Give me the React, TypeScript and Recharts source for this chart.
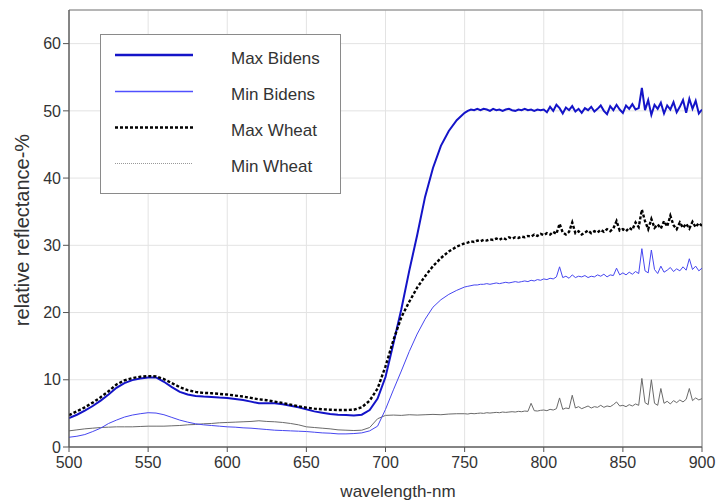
import { LineChart, Line, XAxis, YAxis, CartesianGrid, ReferenceArea, Legend } from "recharts";

const FONT = '"Liberation Sans", Arial, Helvetica, sans-serif';

// wavelength (nm): 5 nm steps on the smooth part, 2 nm steps on the noisy plateau
const wavelengths = [
  500, 505, 510, 515, 520, 525, 530, 535, 540, 545,
  550, 555, 560, 565, 570, 575, 580, 585, 590, 595,
  600, 605, 610, 615, 620, 625, 630, 635, 640, 645,
  650, 655, 660, 665, 670, 675, 680, 685, 690, 695,
  700, 705, 710, 715, 720, 725, 730, 735, 740, 745,
  750,
  752, 754, 756, 758, 760, 762, 764, 766, 768, 770,
  772, 774, 776, 778, 780, 782, 784, 786, 788, 790,
  792, 794, 796, 798, 800, 802, 804, 806, 808, 810,
  812, 814, 816, 818, 820, 822, 824, 826, 828, 830,
  832, 834, 836, 838, 840, 842, 844, 846, 848, 850,
  852, 854, 856, 858, 860, 862, 864, 866, 868, 870,
  872, 874, 876, 878, 880, 882, 884, 886, 888, 890,
  892, 894, 896, 898, 900,
];

const maxBidens = [
  4.3, 4.8, 5.4, 6.1, 6.9, 7.8, 8.8, 9.5, 9.95, 10.2,
  10.35, 10.35, 9.7, 8.9, 8.2, 7.8, 7.6, 7.5, 7.45, 7.35,
  7.3, 7.15, 7.0, 6.75, 6.5, 6.5, 6.5, 6.35, 6.15, 5.9,
  5.6, 5.3, 5.1, 4.9, 4.8, 4.75, 4.7, 4.8, 5.5, 7.2,
  10.4, 15.4, 20.5, 26.2, 31.5, 37.2, 41.5, 44.8, 47.0, 48.6,
  49.7,
  50.0, 50.2, 50.1, 50.3, 50.1, 50.3, 50.2, 50.0, 50.3, 50.1,
  50.2, 50.0, 50.2, 50.3, 50.1, 50.0, 50.2, 50.1, 50.3, 50.1,
  50.2, 50.0, 50.2, 50.1, 50.2, 49.8, 50.6, 50.0, 50.9, 50.4,
  49.6, 50.5, 50.1, 50.7, 49.9, 50.3, 49.7, 50.4, 50.1, 50.6,
  49.9, 50.3, 50.8, 50.0, 49.5, 50.7, 50.1, 50.9, 50.2, 49.7,
  50.8, 50.3, 51.0, 50.2, 50.4, 53.4, 50.1, 51.6, 49.4, 50.9,
  50.3, 51.2, 49.6, 50.8, 50.2, 51.3, 49.8, 50.6, 51.6, 49.7,
  51.8, 50.3, 51.5, 49.6, 50.2,
];

const minBidens = [
  1.45, 1.6, 1.85, 2.3, 2.8, 3.5, 4.0, 4.45, 4.75, 4.95,
  5.1, 5.05, 4.8, 4.4, 4.0, 3.7, 3.45, 3.3, 3.2, 3.1,
  3.0, 2.95, 2.85, 2.8, 2.7, 2.6, 2.5, 2.45, 2.4, 2.35,
  2.3, 2.2, 2.1, 2.05, 1.95, 1.95, 2.0, 2.1, 2.4, 3.1,
  5.6, 8.5, 11.3, 14.2, 16.8, 19.0, 20.8, 21.9, 22.7, 23.3,
  23.8,
  23.9, 24.0, 24.1, 24.1, 24.2, 24.2, 24.3, 24.2, 24.3, 24.4,
  24.3, 24.4, 24.5, 24.4, 24.5, 24.6, 24.5, 24.6, 24.7, 24.6,
  24.8, 24.7, 24.9, 24.8, 25.0, 24.9, 25.1, 25.0, 25.3, 26.8,
  25.2, 25.4, 25.1, 25.6, 25.2, 25.4, 25.3, 25.5, 25.2, 25.4,
  25.3, 25.6, 25.4, 25.7, 25.3, 25.6, 25.5, 26.6, 25.6, 25.9,
  25.6, 26.0, 25.7, 26.1, 25.8, 29.5, 26.2, 25.9, 29.3, 26.4,
  25.8, 26.9, 26.0, 26.3, 26.7, 26.1, 26.5, 26.2, 26.8, 26.3,
  28.0, 26.4, 26.9, 26.2, 26.6,
];

const maxWheat = [
  4.75, 5.3, 5.9, 6.6, 7.4, 8.3, 9.3, 9.9, 10.25, 10.45,
  10.55, 10.5, 10.1, 9.5, 8.9, 8.45, 8.2, 8.05, 8.0, 7.9,
  7.8, 7.65, 7.5, 7.3, 7.1, 6.95, 6.75, 6.55, 6.3, 6.05,
  5.85, 5.7, 5.6, 5.55, 5.5, 5.5, 5.55, 5.9, 6.9, 8.7,
  12.0, 15.9, 19.3, 21.6, 23.7, 25.4, 26.9, 28.1, 29.1, 29.8,
  30.3,
  30.4, 30.6, 30.5, 30.7, 30.6, 30.8, 30.7, 30.9, 30.8, 31.0,
  30.8, 31.1, 30.9, 31.2, 31.0, 31.2, 31.1, 31.3, 31.2, 31.4,
  31.3, 31.6, 31.4, 31.7, 31.5, 31.8, 31.6, 32.0, 31.7, 33.2,
  31.9, 31.6, 32.0, 33.4, 31.8, 32.1, 31.6, 31.9, 32.2, 31.8,
  32.1, 31.9, 32.3, 32.0, 32.4, 32.1, 32.5, 33.6, 32.2, 32.4,
  32.1, 32.6, 32.3, 33.4, 32.7, 35.3, 33.6, 32.4, 33.9, 32.6,
  33.1, 32.5, 33.6, 32.8, 34.4, 33.0, 32.4, 33.4, 32.6, 33.2,
  32.5, 33.5, 32.7, 33.3, 32.9,
];

const minWheat = [
  2.4, 2.55, 2.7, 2.8, 2.9, 2.95, 3.0, 3.0, 3.0, 3.05,
  3.1, 3.1, 3.1, 3.15, 3.2, 3.3, 3.35, 3.45, 3.5, 3.6,
  3.65, 3.7, 3.75, 3.8, 3.9, 3.8, 3.75, 3.65, 3.5, 3.3,
  3.0, 2.9, 2.8, 2.7, 2.55, 2.5, 2.45, 2.5, 2.9, 4.2,
  4.7, 4.75, 4.7, 4.8, 4.75, 4.8, 4.85, 4.8, 4.9, 4.95,
  4.95,
  4.9, 5.0, 4.95, 5.0, 5.05, 5.0, 5.1, 5.05, 5.1, 5.15,
  5.1, 5.2, 5.15, 5.2, 5.25, 5.2, 5.3, 5.25, 5.35, 5.3,
  6.5, 5.4, 5.35, 5.45, 5.5, 5.4, 5.6, 5.5, 5.7, 7.3,
  5.6, 5.8, 5.7, 7.7, 5.8, 6.0, 5.7, 5.9, 6.1, 5.8,
  6.0, 5.9, 6.2, 5.9, 6.1, 6.0, 6.3, 6.7, 6.1, 6.2,
  6.0, 6.3, 6.1, 6.4, 6.2, 10.2, 6.6, 6.3, 10.0, 6.5,
  6.2, 8.7, 6.5, 6.8, 6.4, 6.9, 6.6, 7.0, 6.7, 7.1,
  8.7, 6.9, 7.3, 7.0, 7.2,
];

const xTicks = [500, 550, 600, 650, 700, 750, 800, 850, 900];
const yTicks = [0, 10, 20, 30, 40, 50, 60];

const series = [
  { key: "maxBidens", name: "Max Bidens", color: "#1414c8", width: 2.2, dash: undefined },
  { key: "minBidens", name: "Min Bidens", color: "#4646f0", width: 1, dash: undefined },
  { key: "maxWheat", name: "Max Wheat", color: "#000000", width: 2.4, dash: "3 2" },
  { key: "minWheat", name: "Min Wheat", color: "#6a6a6a", width: 1, dash: undefined },
];

const data = wavelengths.map((wl, i) => ({
  wl,
  maxBidens: maxBidens[i],
  minBidens: minBidens[i],
  maxWheat: maxWheat[i],
  minWheat: minWheat[i],
}));

const tickStyle = { fill: "#333", fontSize: 16, fontFamily: FONT };

function XTitle() {
  return (
    <text x={398} y={497} textAnchor="middle" fontSize={17} fontFamily={FONT} fill="#333">
      wavelength-nm
    </text>
  );
}

function YTitle() {
  return (
    <text
      x={29}
      y={230}
      textAnchor="middle"
      fontSize={20}
      fontFamily={FONT}
      fill="#333"
      transform="rotate(-90 29 230)"
    >
      relative reflectance-%
    </text>
  );
}

function LegendBox() {
  const rows = [21, 57.5, 93.5, 129.5];
  const legendStyles = [
    { color: "#1414c8", width: 2.5, dash: undefined },
    { color: "#5050ff", width: 1.3, dash: undefined },
    { color: "#000", width: 2.5, dash: "3 2" },
    { color: "#999", width: 1, dash: "1 1" },
  ];
  return (
    <svg width={241} height={160} style={{ display: "block" }}>
      <rect x={0.5} y={0.5} width={240} height={159} fill="#fff" stroke="#8a8a8a" />
      {series.map((s, i) => (
        <g key={s.key}>
          <line
            x1={15}
            x2={93}
            y1={rows[i]}
            y2={rows[i]}
            stroke={legendStyles[i].color}
            strokeWidth={legendStyles[i].width}
            strokeDasharray={legendStyles[i].dash}
          />
          <text x={131} y={rows[i] + 8.5} fontSize={17} fontFamily={FONT} fill="#333">
            {s.name}
          </text>
        </g>
      ))}
    </svg>
  );
}

export default function App() {
  return (
    <div style={{ position: "absolute", left: 0, top: 0, background: "#fff" }}>
      <LineChart width={725} height={502} data={data} margin={{ top: 10, right: 23, left: 0, bottom: 0 }}>
        <CartesianGrid stroke="#e3e3e3" />
        <XAxis
          dataKey="wl"
          type="number"
          domain={[500, 900]}
          ticks={xTicks}
          allowDataOverflow
          height={55}
          tick={tickStyle}
          tickSize={5}
          tickMargin={5}
          tickLine={{ stroke: "#555" }}
          axisLine={{ stroke: "#555" }}
          label={<XTitle />}
        />
        <YAxis
          type="number"
          domain={[0, 65]}
          ticks={yTicks}
          allowDataOverflow
          width={69}
          tick={tickStyle}
          tickSize={6}
          tickMargin={2}
          tickLine={{ stroke: "#555" }}
          axisLine={{ stroke: "#555" }}
          label={<YTitle />}
        />
        <ReferenceArea x1={500} x2={900} y1={0} y2={65} fill="none" stroke="#7a7a7a" ifOverflow="visible" />
        <Legend
          verticalAlign="middle"
          align="center"
          layout="horizontal"
          wrapperStyle={{ left: 100, top: 34, width: 241, height: 160 }}
          content={() => <LegendBox />}
        />
        <Line
          dataKey="minWheat"
          stroke="#6a6a6a"
          strokeWidth={1}
          dot={false}
          activeDot={false}
          isAnimationActive={false}
        />
        <Line
          dataKey="minBidens"
          stroke="#4646f0"
          strokeWidth={1}
          dot={false}
          activeDot={false}
          isAnimationActive={false}
        />
        <Line
          dataKey="maxBidens"
          stroke="#1414c8"
          strokeWidth={2}
          dot={false}
          activeDot={false}
          isAnimationActive={false}
        />
        <Line
          dataKey="maxWheat"
          stroke="#000"
          strokeWidth={2.4}
          strokeDasharray="3 2"
          dot={false}
          activeDot={false}
          isAnimationActive={false}
        />
      </LineChart>
    </div>
  );
}
